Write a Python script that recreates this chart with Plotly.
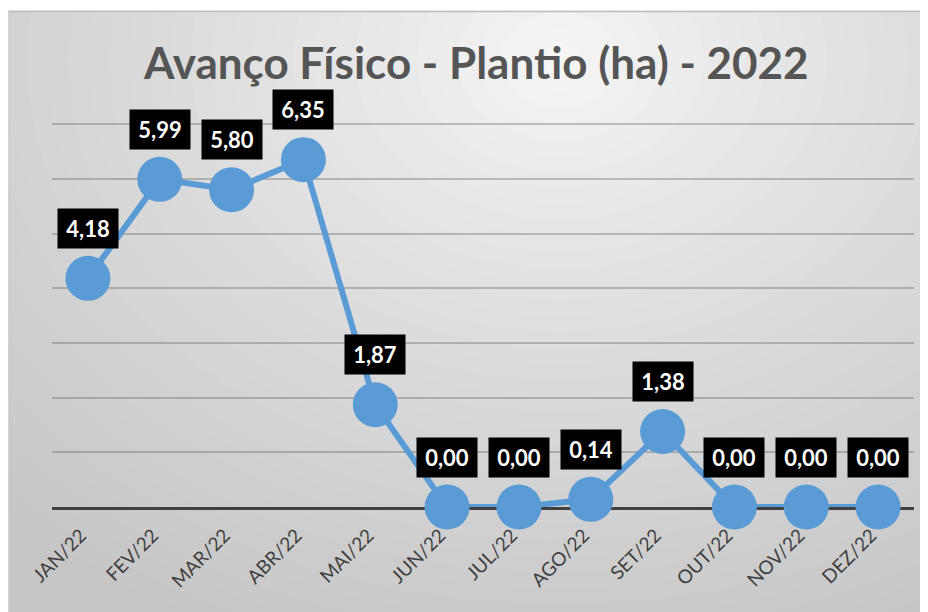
import plotly.graph_objects as go

months = ["JAN/22", "FEV/22", "MAR/22", "ABR/22", "MAI/22", "JUN/22",
          "JUL/22", "AGO/22", "SET/22", "OUT/22", "NOV/22", "DEZ/22"]
plantio = [4.18, 5.99, 5.80, 6.35, 1.87, 0.00, 0.00, 0.14, 1.38, 0.00, 0.00, 0.00]
title_text = "Avanço Físico - Plantio (ha) - 2022"

# page body has an 8px margin, so figure is 920x604
W, H = 920, 604
L, R, T, B = 44, 14, 115, 105
PW, PH = W - L - R, H - T - B

def px(x):
    return (x - L) / PW

def py(y):
    return (H - B - y) / PH

FONT = "Lato"

fig = go.Figure()
fig.add_trace(go.Scatter(
    x=months, y=plantio, mode="lines+markers",
    line=dict(color="#5b9bd5", width=6),
    marker=dict(color="#5b9bd5", size=45),
    cliponaxis=False, hoverinfo="x+y", showlegend=False,
))

EDGE = 198
shapes = []
# radial-ish gradient background made of concentric ellipses
cx, cy = 552, 52
Rx, Ry = 820, 640
N = 40
for k in range(N, 0, -1):
    r = k / N
    drop = 50 * (min(r, 1.0) ** 0.8)
    c = int(round(248 - drop))
    shapes.append(dict(
        type="circle", xref="paper", yref="paper", layer="below",
        x0=px(cx - Rx * r), x1=px(cx + Rx * r),
        y0=py(cy + Ry * r), y1=py(cy - Ry * r),
        fillcolor=f"rgb({c},{c},{c})", line=dict(width=0),
    ))
# white strip above the chart box
shapes.append(dict(type="rect", xref="paper", yref="paper", layer="below",
                   x0=px(-50), x1=px(W + 50), y0=py(2.5), y1=py(-50),
                   fillcolor="white", line=dict(width=0)))
shapes.append(dict(type="rect", xref="paper", yref="paper", layer="below",
                   x0=px(-50), x1=px(0.5), y0=py(H + 50), y1=py(-50),
                   fillcolor="white", line=dict(width=0)))
# chart border
shapes.append(dict(type="line", xref="paper", yref="paper", layer="below",
                   x0=px(1), x1=px(W + 5), y0=py(3.5), y1=py(3.5),
                   line=dict(color="#bdbdbd", width=1.5)))
shapes.append(dict(type="line", xref="paper", yref="paper", layer="below",
                   x0=px(1), x1=px(1), y0=py(3), y1=py(H + 5),
                   line=dict(color="#c4c4c4", width=1)))

annotations = []
for m, v in zip(months, plantio):
    annotations.append(dict(
        x=m, y=v, xref="x", yref="y", yshift=50, showarrow=False,
        text=f"<b>{v:.2f}</b>".replace(".", ","),
        font=dict(family=FONT, size=22, color="white"),
        bgcolor="black", width=58, height=37, borderpad=1,
        align="center", valign="middle",
    ))
annotations.append(dict(
    x=px(468), y=py(54), xref="paper", yref="paper", showarrow=False,
    text=f"<b>{title_text}</b>",
    font=dict(family=FONT, size=44, color="#555555"),
    xanchor="center", yanchor="middle",
))

fig.update_layout(
    width=W, height=H,
    margin=dict(l=L, r=R, t=T, b=B, pad=0),
    paper_bgcolor=f"rgb({EDGE},{EDGE},{EDGE})", plot_bgcolor="rgba(0,0,0,0)",
    shapes=shapes, annotations=annotations,
    showlegend=False,
    xaxis=dict(
        type="category", range=[-0.5, len(months) - 0.5],
        showgrid=False, showline=True, linecolor="#404040", linewidth=3,
        layer="below traces", ticks="", tickangle=-45,
        ticklabelstandoff=7, ticklabelshift=-7,
        tickfont=dict(family=FONT, size=19, color="#3f3f3f"),
        fixedrange=True, automargin=False,
    ),
    yaxis=dict(
        range=[0, 7.02], tickvals=[1, 2, 3, 4, 5, 6, 7], showgrid=True,
        gridcolor="rgba(80,80,80,0.32)", gridwidth=2,
        zeroline=False, showticklabels=False, ticks="",
        layer="below traces", fixedrange=True, automargin=False,
    ),
)

fig.write_html("out.html")
